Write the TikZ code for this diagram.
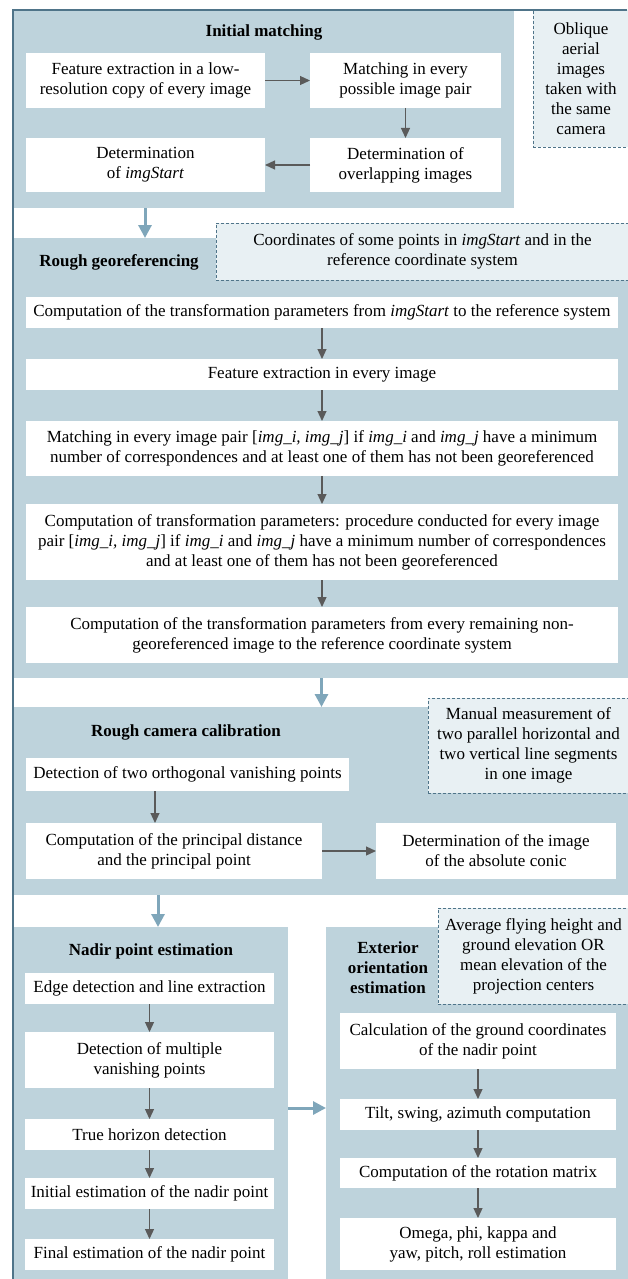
\documentclass[tikz,border=0pt]{standalone}
\usepackage{fontspec}
\setmainfont{Liberation Serif}
\usetikzlibrary{arrows.meta}
\definecolor{frameblue}{HTML}{4F7489}
\definecolor{panelblue}{HTML}{BED3DC}
\definecolor{inputfill}{HTML}{E8F0F3}
\definecolor{flowblue}{HTML}{7FA6BA}
\definecolor{arrowgray}{HTML}{5A5A5A}

\begin{document}
\begin{tikzpicture}[x=1pt,y=-1pt,
		panel/.style={fill=panelblue,inner sep=0pt,outer sep=0pt,anchor=north west},
		stepbox/.style={fill=white,inner sep=1pt,outer sep=0pt,align=center,font=\fontsize{17}{20}\selectfont},
		inputbox/.style={stepbox,anchor=north west,fill=inputfill,draw=frameblue,densely dashed,line width=1pt},
		heading/.style={align=center,font=\fontsize{17}{20}\selectfont\bfseries},
		steparrow/.style={draw=arrowgray,line width=1.2pt,-{Triangle[length=10pt,width=9pt]}},
		flowarrow/.style={draw=flowblue,line width=3pt,-{Triangle[length=13pt,width=13pt]}}]
		\useasboundingbox (0,0) rectangle (627,1279);

		% panels
		\node[panel,minimum width=501,minimum height=198] (initial) at (13,10) {};
		\node[panel,minimum width=617,minimum height=440] (georef) at (13,238) {};
		\node[panel,minimum width=617,minimum height=188] (calib) at (13,707) {};
		\node[panel,minimum width=275,minimum height=352] (nadir) at (13,927) {};
		\node[panel,minimum width=304,minimum height=352] (ext) at (326,927) {};

		% inputs
		\node[inputbox,minimum width=96,minimum height=137] (oblique) at (533,10) {Oblique\\aerial\\images\\taken with\\the same\\camera};
		\node[inputbox,minimum width=413,minimum height=57] (gcp) at (216,223) {Coordinates of some points in \textit{imgStart} and in the\\reference coordinate system};
		\node[inputbox,minimum width=201,minimum height=95] (manual) at (428,698) {Manual measurement of\\two parallel horizontal and\\two vertical line segments\\in one image};
		\node[inputbox,minimum width=191,minimum height=96] (height) at (438,908) {Average flying height and\\ground elevation OR\\mean elevation of the\\projection centers};

		% headings
		\node[heading] (h1) at (264,32) {Initial matching};
		\node[heading] (h2) at (119,262) {Rough georeferencing};
		\node[heading] (h3) at (186,732) {Rough camera calibration};
		\node[heading] (h4) at (151,951) {Nadir point estimation};
		\node[heading] (h5) at (388,968) {Exterior\\orientation\\estimation};

		% initial matching
		\node[stepbox,minimum width=239,minimum height=55] (lowres) at (145.5,80.5) {Feature extraction in a low-\\resolution copy of every image};
		\node[stepbox,minimum width=191,minimum height=55] (pairs) at (405.5,80.5) {Matching in every\\possible image pair};
		\node[stepbox,minimum width=239,minimum height=54] (start) at (145.5,165) {Determination\\of \textit{imgStart}};
		\node[stepbox,minimum width=191,minimum height=54] (overlap) at (405.5,165) {Determination of\\overlapping images};

		% rough georeferencing
		\node[stepbox,minimum width=592,minimum height=31] (trans) at (322,312.5) {Computation of the transformation parameters from \textit{imgStart} to the reference system};
		\node[stepbox,minimum width=592,minimum height=31] (feat) at (322,374.5) {Feature extraction in every image};
		\node[stepbox,minimum width=592,minimum height=55] (pairmatch) at (322,448.5) {Matching in every image pair [\textit{img\_i, img\_j}] if \textit{img\_i} and \textit{img\_j} have a minimum\\number of correspondences and at least one of them has not been georeferenced};
		\node[stepbox,minimum width=592,minimum height=76] (proc) at (322,542) {Computation of transformation parameters: procedure conducted for every image\\pair [\textit{img\_i, img\_j}] if \textit{img\_i} and \textit{img\_j} have a minimum number of correspondences\\and at least one of them has not been georeferenced};
		\node[stepbox,minimum width=592,minimum height=56] (remain) at (322,635) {Computation of the transformation parameters from every remaining non-\\georeferenced image to the reference coordinate system};

		% rough camera calibration
		\node[stepbox,minimum width=323,minimum height=33] (vanish) at (187.5,774.5) {Detection of two orthogonal vanishing points};
		\node[stepbox,minimum width=296,minimum height=56] (princ) at (174,851) {Computation of the principal distance\\and the principal point};
		\node[stepbox,minimum width=240,minimum height=56] (conic) at (496,851) {Determination of the image\\of the absolute conic};

		% nadir point estimation
		\node[stepbox,minimum width=249,minimum height=31] (edges) at (149.5,988.5) {Edge detection and line extraction};
		\node[stepbox,minimum width=249,minimum height=56] (multi) at (149.5,1060) {Detection of multiple\\vanishing points};
		\node[stepbox,minimum width=249,minimum height=31] (horizon) at (149.5,1134.5) {True horizon detection};
		\node[stepbox,minimum width=249,minimum height=31] (first) at (149.5,1193.5) {Initial estimation of the nadir point};
		\node[stepbox,minimum width=249,minimum height=31] (final) at (149.5,1254.5) {Final estimation of the nadir point};

		% exterior orientation estimation
		\node[stepbox,minimum width=276,minimum height=56] (ground) at (478,1041) {Calculation of the ground coordinates\\of the nadir point};
		\node[stepbox,minimum width=276,minimum height=31] (tilt) at (478,1114.5) {Tilt, swing, azimuth computation};
		\node[stepbox,minimum width=276,minimum height=30] (rot) at (478,1173) {Computation of the rotation matrix};
		\node[stepbox,minimum width=276,minimum height=52] (omega) at (478,1244) {Omega, phi, kappa and\\yaw, pitch, roll estimation};

		% arrows inside the panels
		\draw[steparrow] (lowres) -- (pairs);
		\draw[steparrow] (pairs) -- (overlap);
		\draw[steparrow] (overlap) -- (start);
		\draw[steparrow] (trans) -- (feat);
		\draw[steparrow] (feat) -- (pairmatch);
		\draw[steparrow] (pairmatch) -- (proc);
		\draw[steparrow] (proc) -- (remain);
		\draw[steparrow] ([xshift=-32.5]vanish.south) -- ([xshift=-32.5]vanish.south |- princ.north);
		\draw[steparrow] (princ) -- (conic);
		\draw[steparrow] (edges) -- (multi);
		\draw[steparrow] (multi) -- (horizon);
		\draw[steparrow] (horizon) -- (first);
		\draw[steparrow] (first) -- (final);
		\draw[steparrow] (ground) -- (tilt);
		\draw[steparrow] (tilt) -- (rot);
		\draw[steparrow] (rot) -- (omega);

		% arrows between the panels
		\draw[flowarrow] ([xshift=-118.5]initial.south) -- ([xshift=-118.5]initial.south |- georef.north);
		\draw[flowarrow] (georef.south) -- (calib.north);
		\draw[flowarrow] ([xshift=-163.5]calib.south) -- ([xshift=-163.5]calib.south |- nadir.north);
		\draw[flowarrow] ([yshift=-5]nadir.east) -- ([yshift=-5]nadir.east -| ext.west);

		% frame
		\draw[frameblue,line width=2.2pt] (627,10) -- (13,10) -- (13,1279);
\end{tikzpicture}
\end{document}
